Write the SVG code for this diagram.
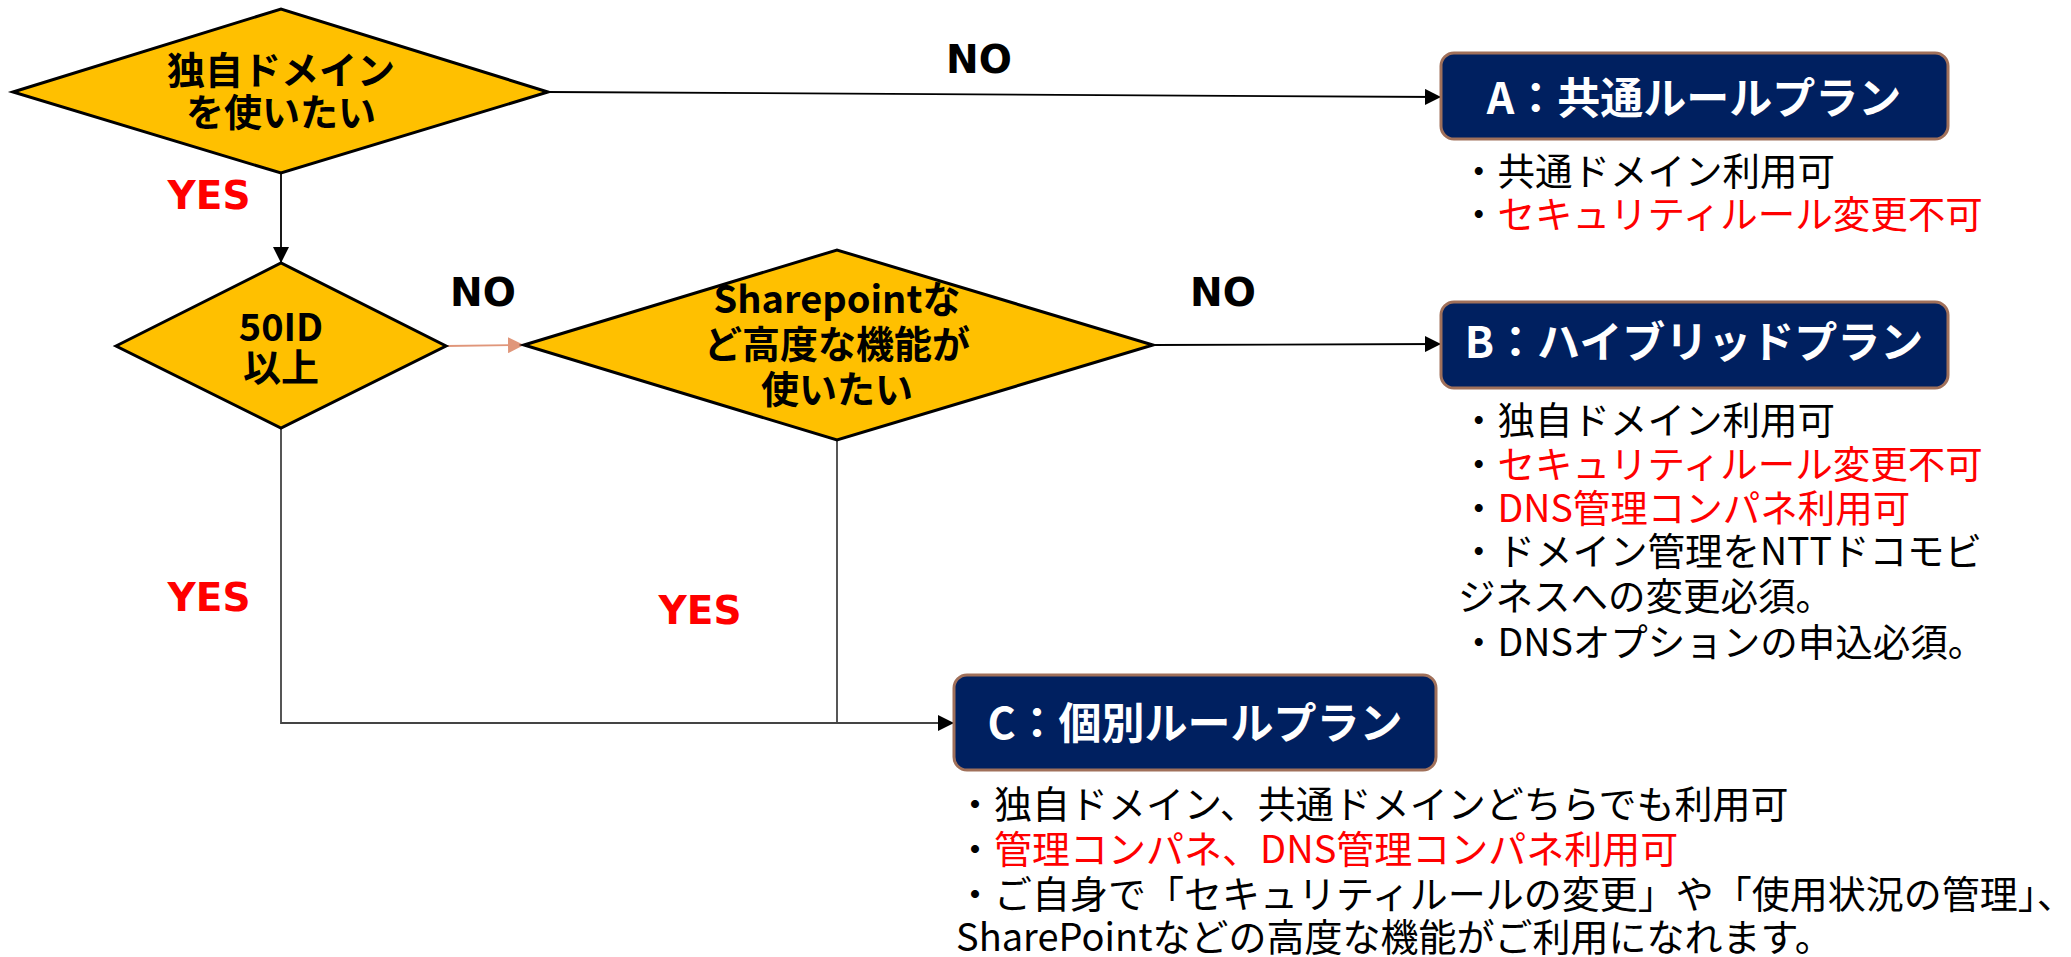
<svg xmlns="http://www.w3.org/2000/svg" width="2071" height="957" viewBox="0 0 2071 957">
<style>
.dia{fill:#FFC000;stroke:#000;stroke-width:3;stroke-linejoin:miter}
.box{fill:#002060;stroke:#A0705A;stroke-width:3}
.dt{font-family:"Noto Sans CJK JP","Noto Sans",sans-serif;font-weight:bold;font-size:38px;fill:#000;text-anchor:middle;dominant-baseline:central}
.bt{font-family:"Noto Sans CJK JP","Noto Sans",sans-serif;font-weight:bold;font-size:43px;fill:#fff;text-anchor:middle;dominant-baseline:central}
.tx{font-family:"Noto Sans CJK JP","Noto Sans",sans-serif;font-size:37.5px;fill:#000;dominant-baseline:central}
.txc{font-family:"Noto Sans CJK JP","Noto Sans",sans-serif;font-size:38px;fill:#000;dominant-baseline:central}
.red{fill:#FF0000}
.yes{font-family:"DejaVu Sans",Verdana,sans-serif;font-weight:bold;font-size:39px;fill:#FF0000;text-anchor:middle;dominant-baseline:central}
.no{font-family:"DejaVu Sans",Verdana,sans-serif;font-weight:bold;font-size:39px;fill:#000;text-anchor:middle;dominant-baseline:central}
.ln{fill:none;stroke:#000;stroke-width:1.8}
.ln2{fill:none;stroke:#444;stroke-width:1.8}
.sal{fill:none;stroke:#E0967A;stroke-width:1.8}
</style>
<defs>
<marker id="ahb" viewBox="0 0 10 10" refX="10" refY="5" markerWidth="16" markerHeight="16" orient="auto" markerUnits="userSpaceOnUse">
<path d="M0,0 L10,5 L0,10 z" fill="#000"/>
</marker>
<marker id="ahs" viewBox="0 0 10 10" refX="10" refY="5" markerWidth="16" markerHeight="16" orient="auto" markerUnits="userSpaceOnUse">
<path d="M0,0 L10,5 L0,10 z" fill="#E0967A"/>
</marker>
</defs>

<g id="connectors">
<line class="ln" x1="548" y1="92" x2="1441" y2="97" marker-end="url(#ahb)"/>
<line class="ln" x1="281" y1="173" x2="281" y2="263" marker-end="url(#ahb)"/>
<line class="sal" x1="446" y1="346" x2="524" y2="345" marker-end="url(#ahs)"/>
<line class="ln" x1="1153" y1="345" x2="1441" y2="344" marker-end="url(#ahb)"/>
<polyline class="ln2" points="281,428 281,723 954,723" marker-end="url(#ahb)"/>
<line class="ln2" x1="837" y1="440" x2="837" y2="723"/>
</g>

<g id="labels">
<text class="yes" x="209" y="195">YES</text>
<text class="yes" x="209" y="597">YES</text>
<text class="yes" x="700" y="610">YES</text>
<text class="no" x="979" y="59">NO</text>
<text class="no" x="483" y="292">NO</text>
<text class="no" x="1223" y="292">NO</text>
</g>

<g id="d1">
<polygon class="dia" points="13,92 281,9 548,92 281,173"/>
<text class="dt" x="281" y="67">独自ドメイン</text>
<text class="dt" x="281" y="109">を使いたい</text>
</g>

<g id="d2">
<polygon class="dia" points="116,346 281,263 446,346 281,428"/>
<text class="dt" x="281" y="324">50ID</text>
<text class="dt" x="281" y="364">以上</text>
</g>

<g id="d3">
<polygon class="dia" points="524,345 837,250 1153,345 837,440"/>
<text class="dt" x="837" y="296">Sharepointな</text>
<text class="dt" x="837" y="341">ど高度な機能が</text>
<text class="dt" x="837" y="386">使いたい</text>
</g>

<g id="planA">
<rect class="box" x="1441" y="53" width="507" height="86" rx="13"/>
<text class="bt" x="1694" y="95">A：共通ルールプラン</text>
<text class="tx" x="1460" y="168">・共通ドメイン利用可</text>
<text class="tx" x="1460" y="211">・<tspan class="red">セキュリティルール変更不可</tspan></text>
</g>

<g id="planB">
<rect class="box" x="1441" y="302" width="507" height="86" rx="13"/>
<text class="bt" x="1694" y="339">B：ハイブリッドプラン</text>
<text class="tx" x="1460" y="417">・独自ドメイン利用可</text>
<text class="tx" x="1460" y="461">・<tspan class="red">セキュリティルール変更不可</tspan></text>
<text class="tx" x="1460" y="505">・<tspan class="red">DNS管理コンパネ利用可</tspan></text>
<text class="tx" x="1460" y="548">・ドメイン管理をNTTドコモビ</text>
<text class="tx" x="1458" y="593">ジネスへの変更必須。</text>
<text class="tx" x="1460" y="639">・DNSオプションの申込必須。</text>
</g>

<g id="planC">
<rect class="box" x="954" y="675" width="482" height="95" rx="13"/>
<text class="bt" x="1195" y="720">C：個別ルールプラン</text>
<text class="txc" x="956" y="801">・独自ドメイン、共通ドメインどちらでも利用可</text>
<text class="txc" x="956" y="846">・<tspan class="red">管理コンパネ、DNS管理コンパネ利用可</tspan></text>
<text class="txc" x="956" y="891">・ご自身で「セキュリティルールの変更」や「使用状況の管理」、</text>
<text class="txc" x="956" y="934">SharePointなどの高度な機能がご利用になれます。</text>
</g>
</svg>
